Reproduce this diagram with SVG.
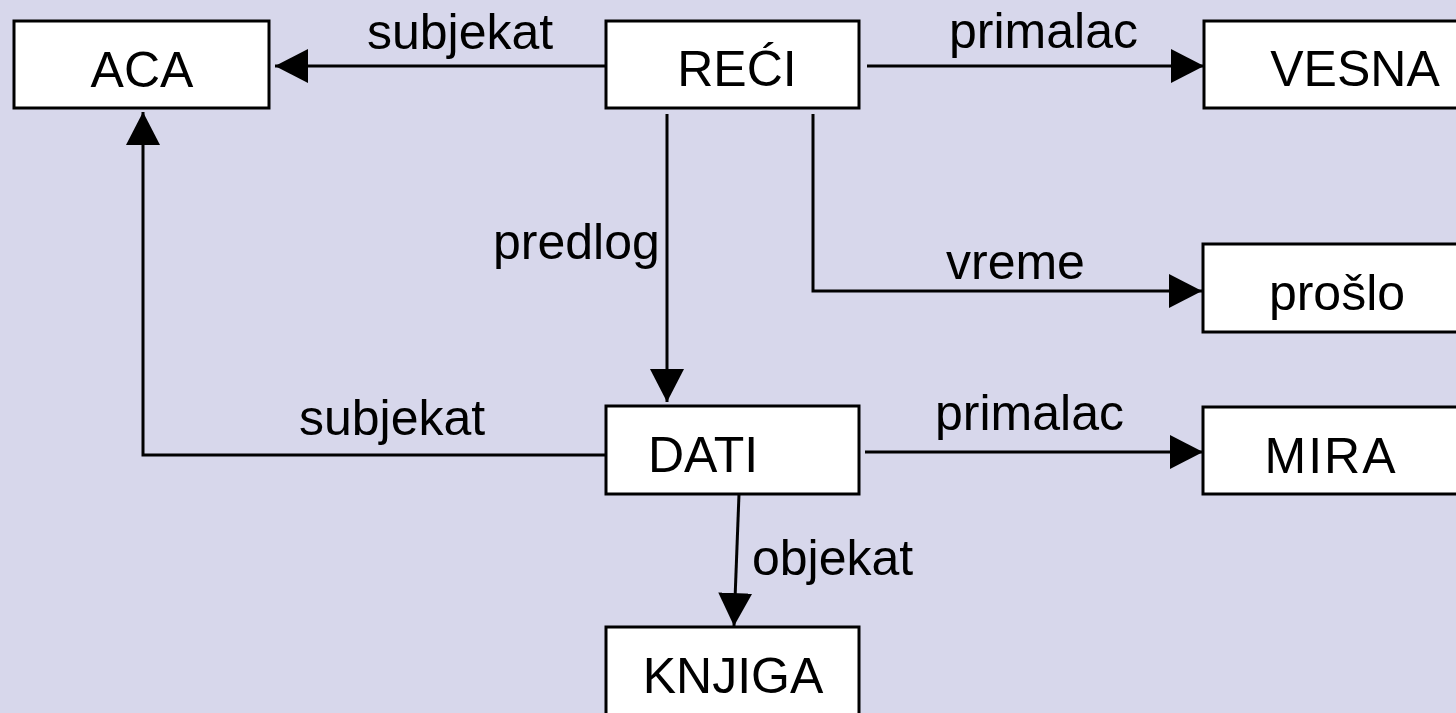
<svg xmlns="http://www.w3.org/2000/svg" width="1456" height="713" viewBox="0 0 1456 713">
<style>
.box{fill:#fff;stroke:#000;stroke-width:3}
.t{font-family:"Liberation Sans",Arial,sans-serif;font-size:50px;fill:#000}
.c{text-anchor:middle}
.ln{fill:none;stroke:#000;stroke-width:3}
</style>
<defs>
<marker id="ah" markerUnits="userSpaceOnUse" markerWidth="34" markerHeight="34" refX="33" refY="17" orient="auto" viewBox="0 0 34 34">
<path d="M0,0 L33,17 L0,34 Z" fill="#000"/>
</marker>
</defs>
<rect width="1456" height="713" fill="#D7D7EB"/>
<g id="connectors">
<path class="ln" d="M605,66 L275,66" marker-end="url(#ah)"/>
<path class="ln" d="M867,66 L1204,66" marker-end="url(#ah)"/>
<path class="ln" d="M667,114 L667,402" marker-end="url(#ah)"/>
<path class="ln" d="M813,114 L813,291 L1202,291" marker-end="url(#ah)"/>
<path class="ln" d="M605,455 L143,455 L143,112" marker-end="url(#ah)"/>
<path class="ln" d="M865,452 L1203,452" marker-end="url(#ah)"/>
<path class="ln" d="M739,494 L734,626" marker-end="url(#ah)"/>
<text class="t" x="367" y="49">subjekat</text>
<text class="t" x="949" y="48">primalac</text>
<text class="t" x="493" y="259">predlog</text>
<text class="t" x="946" y="279">vreme</text>
<text class="t" x="299" y="435">subjekat</text>
<text class="t" x="935" y="430">primalac</text>
<text class="t" x="752" y="575">objekat</text>
</g>
<g id="ACA"><rect class="box" x="14" y="21" width="255" height="87"/><text class="t c" x="142" y="87">ACA</text></g>
<g id="RECI"><rect class="box" x="606" y="21" width="253" height="87"/><text class="t c" x="737" y="86">REĆI</text></g>
<g id="VESNA"><rect class="box" x="1204" y="21" width="260" height="87"/><text class="t c" x="1355" y="86">VESNA</text></g>
<g id="proslo"><rect class="box" x="1203" y="244" width="260" height="88"/><text class="t c" x="1337" y="310">prošlo</text></g>
<g id="DATI"><rect class="box" x="606" y="406" width="253" height="88"/><text class="t c" x="703" y="472">DATI</text></g>
<g id="MIRA"><rect class="box" x="1203" y="407" width="260" height="87"/><text class="t c" x="1331" y="473" letter-spacing="2">MIRA</text></g>
<g id="KNJIGA"><rect class="box" x="606" y="627" width="253" height="100"/><text class="t c" x="733" y="693">KNJIGA</text></g>
</svg>
